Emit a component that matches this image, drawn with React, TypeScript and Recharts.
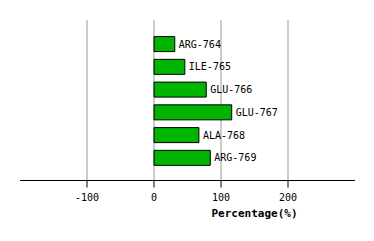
import { BarChart, Bar, XAxis, YAxis, CartesianGrid, LabelList } from 'recharts';

const residues = ['ARG-764', 'ILE-765', 'GLU-766', 'GLU-767', 'ALA-768', 'ARG-769'];
const percentages = [31, 46, 78, 116, 67, 84];
const xDomain = [-200, 300];
const xTicks = [-100, 0, 100, 200];

const data = residues.map((name, i) => ({ name, value: percentages[i] }));

const font = '"DejaVu Sans Mono", monospace';

// grid lines only at the tick values, not at the domain edges
const gridAtTicks = ({ offset }: any) =>
  xTicks.map((t) => offset.left + ((t - xDomain[0]) / (xDomain[1] - xDomain[0])) * offset.width);

export default function App() {
  return (
    <div style={{ position: 'absolute', left: 0, top: 0 }}>
      <BarChart
        width={374}
        height={241}
        data={data}
        layout="vertical"
        margin={{ top: 20, right: 19, bottom: 20.5, left: 20 }}
      >
        <CartesianGrid horizontal={false} stroke="#999999" verticalCoordinatesGenerator={gridAtTicks} />
        <XAxis
          type="number"
          domain={xDomain}
          ticks={xTicks}
          height={40}
          tickSize={7}
          tickMargin={6.5}
          stroke="#000"
          tick={{ fill: '#000', fontSize: 10, fontFamily: font }}
          label={{
            value: 'Percentage(%)',
            position: 'insideBottom',
            dx: 67,
            dy: 1.5,
            fill: '#000',
            fontSize: 11,
            fontWeight: 'bold',
            fontFamily: font,
          }}
        />
        <YAxis type="category" dataKey="name" hide padding={{ top: 12.6, bottom: 11.4 }} />
        <Bar dataKey="value" fill="#00b400" stroke="#000" strokeWidth={1} barSize={15} isAnimationActive={false}>
          <LabelList dataKey="name" position="right" offset={4} fill="#000" fontSize={10} fontFamily={font} />
        </Bar>
      </BarChart>
    </div>
  );
}
